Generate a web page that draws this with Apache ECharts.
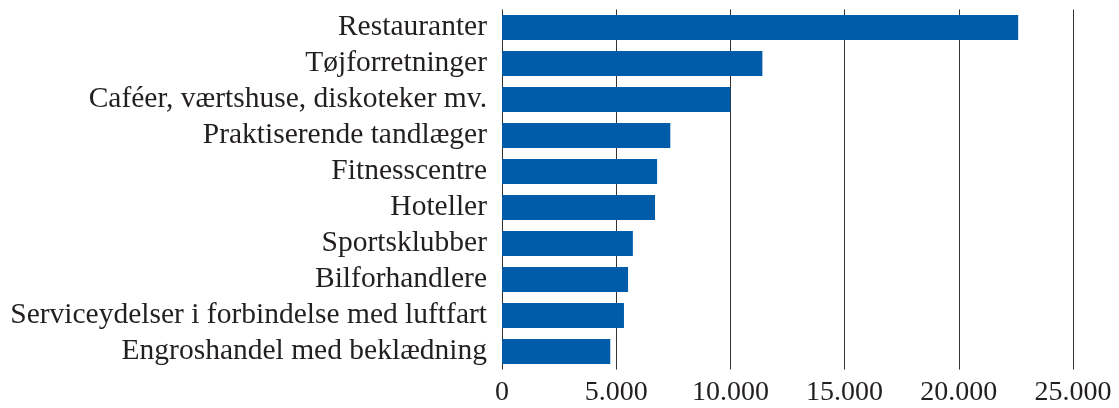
<!DOCTYPE html>
<html>
<head>
<meta charset="utf-8">
<script src="https://cdn.jsdelivr.net/npm/echarts@6/dist/echarts.min.js"></script>
<style>
html,body{margin:0;padding:0;background:#fff;}
#chart{width:1119px;height:408px;}
</style>
</head>
<body>
<div id="chart"></div>
<script>
const categories = [
  "Restauranter",
  "Tøjforretninger",
  "Caféer, værtshuse, diskoteker mv.",
  "Praktiserende tandlæger",
  "Fitnesscentre",
  "Hoteller",
  "Sportsklubber",
  "Bilforhandlere",
  "Serviceydelser i forbindelse med luftfart",
  "Engroshandel med beklædning"
];
const values = [22600, 11400, 10000, 7370, 6790, 6700, 5730, 5520, 5340, 4740];
const xTicks = [0, 5000, 10000, 15000, 20000, 25000];

const fmt = v => String(v).replace(/\B(?=(\d{3})+(?!\d))/g, ".");

const chart = echarts.init(document.getElementById('chart'), null, {renderer: 'canvas'});
chart.setOption({
  animation: false,
  backgroundColor: '#ffffff',
  textStyle: {fontFamily: 'Liberation Serif'},
  grid: {left: 502, right: 46, top: 9.5, height: 360, containLabel: false},
  xAxis: {
    type: 'value',
    min: xTicks[0],
    max: xTicks[xTicks.length - 1],
    interval: 5000,
    axisLine: {show: false},
    axisTick: {show: false},
    axisLabel: {
      formatter: fmt,
      fontFamily: 'Liberation Serif',
      fontSize: 28,
      color: '#231f20',
      margin: 9
    },
    splitLine: {show: true, lineStyle: {color: '#333333', width: 1}}
  },
  yAxis: {
    type: 'category',
    data: categories,
    inverse: true,
    axisLine: {show: false},
    axisTick: {show: false},
    axisLabel: {
      interval: 0,
      fontFamily: 'Liberation Serif',
      fontSize: 29.5,
      color: '#231f20',
      margin: 15
    }
  },
  series: [{
    type: 'bar',
    data: values,
    barCategoryGap: '30%',
    itemStyle: {color: '#005ca9'}
  }]
});
</script>
</body>
</html>
